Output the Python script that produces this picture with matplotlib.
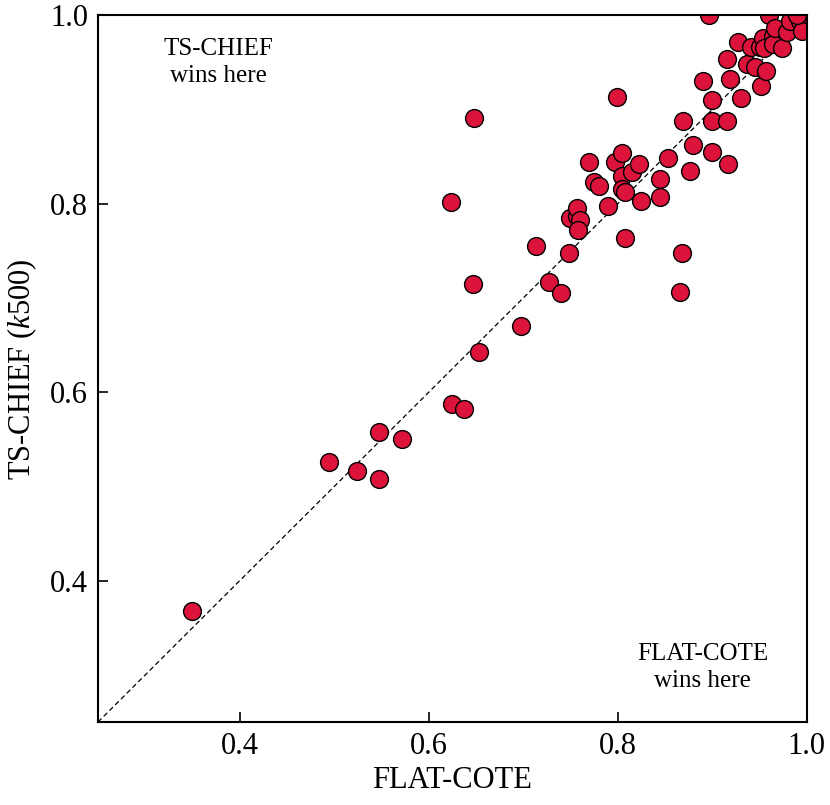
import numpy as np
import matplotlib
matplotlib.use("Agg")
import matplotlib.pyplot as plt

plt.rcParams['font.family'] = ['Liberation Serif', 'DejaVu Serif']
plt.rcParams['mathtext.fontset'] = 'custom'
plt.rcParams['mathtext.it'] = 'Liberation Serif:italic'
plt.rcParams['mathtext.rm'] = 'Liberation Serif'

# accuracy of each method per dataset
flat_cote = [
    0.349, 0.495, 0.524, 0.547, 0.547, 0.572, 0.625, 0.637, 0.653, 0.647,
    0.624, 0.648, 0.698, 0.713, 0.727, 0.740, 0.748, 0.749, 0.757, 0.757,
    0.760, 0.758, 0.770, 0.775, 0.780, 0.790, 0.797, 0.799, 0.804, 0.804,
    0.805, 0.808, 0.808, 0.815, 0.822, 0.825, 0.845, 0.845, 0.853, 0.868,
    0.866, 0.869, 0.876, 0.880, 0.890, 0.897, 0.900, 0.900, 0.900, 0.916,
    0.916, 0.917, 0.919, 0.927, 0.930, 0.937, 0.941, 0.945, 0.951, 0.952,
    0.954, 0.955, 0.957, 0.960, 0.964, 0.964, 0.966, 0.974, 0.979, 0.982,
    0.993, 0.995, 0.990,
]
ts_chief = [
    0.368, 0.526, 0.516, 0.558, 0.508, 0.550, 0.588, 0.582, 0.643, 0.715,
    0.802, 0.891, 0.670, 0.755, 0.717, 0.705, 0.748, 0.785, 0.787, 0.796,
    0.783, 0.772, 0.844, 0.823, 0.819, 0.798, 0.844, 0.913, 0.854, 0.829,
    0.816, 0.813, 0.764, 0.834, 0.842, 0.803, 0.826, 0.807, 0.849, 0.748,
    0.706, 0.888, 0.835, 0.862, 0.930, 1.000, 0.910, 0.888, 0.855, 0.888,
    0.954, 0.842, 0.932, 0.972, 0.912, 0.948, 0.966, 0.945, 0.966, 0.925,
    0.976, 0.965, 0.941, 1.000, 0.978, 0.970, 0.987, 0.965, 0.982, 0.994,
    0.994, 0.983, 1.000,
]

fig = plt.figure(figsize=(8.3, 8.05), dpi=100)
ax = fig.add_axes([0.118, 0.103, 0.854, 0.878])

ax.plot([0.25, 1.0], [0.25, 1.0], ls='--', color='black', lw=0.9, dashes=(4, 2.5), zorder=1)
ax.scatter(flat_cote, ts_chief, s=165, c='#DC143C', edgecolors='black', linewidths=1.0, zorder=2)

ax.set_xlim(0.25, 1.0)
ax.set_ylim(0.25, 1.0)
ax.set_xticks([0.4, 0.6, 0.8, 1.0])
ax.set_yticks([0.4, 0.6, 0.8, 1.0])
ax.tick_params(direction='in', length=7, width=1.2, labelsize=22, pad=7)
for sp in ax.spines.values():
    sp.set_linewidth(1.5)

ax.set_xlabel('FLAT-COTE', fontsize=22, labelpad=4)
ax.set_ylabel('TS-CHIEF ($k$500)', fontsize=22, labelpad=8)

ax.text(0.377, 0.950, 'TS-CHIEF\nwins here', ha='center', va='center', fontsize=18, linespacing=1.3)
ax.text(0.890, 0.308, 'FLAT-COTE\nwins here', ha='center', va='center', fontsize=18, linespacing=1.3)

fig.savefig('out.png', dpi=100)
